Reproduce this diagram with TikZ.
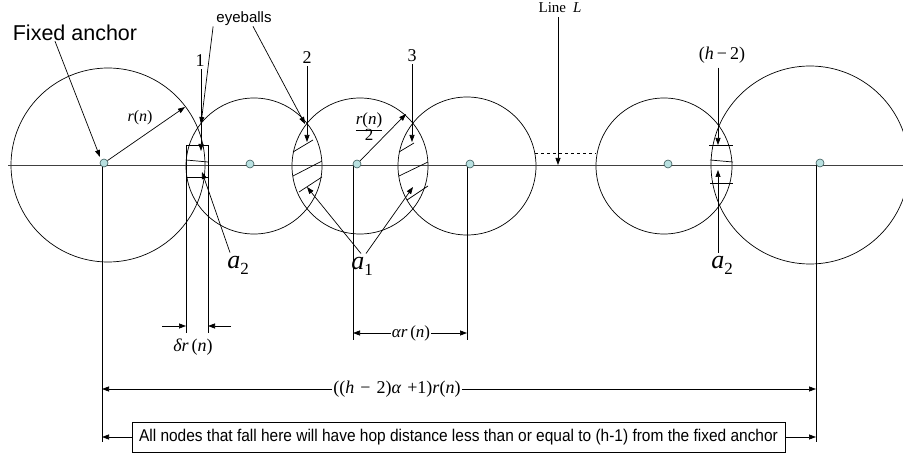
\documentclass[tikz,border=0pt]{standalone}
\usepackage{fontspec}
\setmainfont{Liberation Serif}
\newfontfamily\arialf{Liberation Sans}
\usetikzlibrary{arrows.meta}
\definecolor{dotfill}{HTML}{B8E0E0}
\definecolor{dotline}{HTML}{3A5A5A}
\begin{document}
\begin{tikzpicture}[x=1pt,y=-1pt, line width=0.7pt,
  arr/.style={-{Triangle[length=7pt,width=5pt]}},
  ring/.style={draw, line width=0.7pt},
  dotnode/.style={circle, draw=dotline, fill=dotfill, inner sep=0pt, minimum size=8pt, line width=0.6pt},
  lbl/.style={inner sep=0pt, font=\fontsize{18}{20}\selectfont},
  big/.style={inner sep=0pt, font=\fontsize{26}{28}\selectfont},
]
\useasboundingbox (0,0) rectangle (903,454);
% circles
\draw[ring] (108,165) circle[radius=97pt];
\draw[ring] (254,166) circle[radius=68pt];
\draw[ring] (360,166) circle[radius=68pt];
\draw[ring] (467,166) circle[radius=69pt];
\draw[ring] (664,166) circle[radius=68pt];
\draw[ring] (810,165) circle[radius=99pt];
% main line L
\draw[black!75] (8,165) -- (903,165);
\draw[dashed] (535,153) -- (596,153);
% verticals
\draw (102,165) -- (102,442);
\draw (353,165) -- (353,340);
\draw (467,165) -- (467,340);
\draw (816,165) -- (816,442);
% dots
\node[dotnode] (dot1) at (104,163) {};
\node[dotnode] (dot2) at (250,164) {};
\node[dotnode] (dot3) at (357,164) {};
\node[dotnode] (dot4) at (470,164) {};
\node[dotnode] (dot5) at (668,164) {};
\node[dotnode] (dot6) at (820,163) {};
% lens 1
\draw (186,145) -- (208,145);
\draw (186,177) -- (208,177);
\draw (186,160) -- (208,162);
\draw (186,145) -- (186,333);
\draw (208,145) -- (208,333);
% lens 2 hatch
\draw (293,152) -- (313,140);
\draw (293,176) -- (322,161);
\draw (299,192) -- (322,177);
% lens 3 hatch
\draw (399,152) -- (414,143);
\draw (399,176) -- (428,162);
\draw (407,200) -- (428,186);
% lens 6
\draw (709,145) -- (733,145);
\draw (710,183) -- (733,183);
\draw (710,160) -- (733,162);
% labels
\node[font=\arialf\fontsize{21.5}{24}\selectfont, inner sep=0pt] (fa) at (75,33) {Fixed anchor};
\node[font=\arialf\fontsize{15}{17}\selectfont, inner sep=0pt] (eye) at (244,19) {eyeballs};
\node[lbl] (n1) at (200,61) {1};
\node[lbl] (n2) at (307,58) {2};
\node[lbl] (n3) at (412,56) {3};
\node[lbl] (nh) at (722,55) {(\textit{h}\,−\,2)};
\node[inner sep=0pt, font=\fontsize{15}{17}\selectfont] (lineL) at (560,8) {Line\hspace{7pt}\textit{L}};
\node[inner sep=0pt, font=\fontsize{16}{18}\selectfont] (rn) at (140,118) {\textit{r}(\textit{n})};
\node[inner sep=0pt, font=\fontsize{17}{18}\selectfont, align=center] (rn2) at (369,127) {\underline{\textit{r}(\textit{n})}\\[-2pt]2};
\node[big] (a2l) at (238,265) {\textit{a}\raisebox{-6pt}{\fontsize{17}{18}\selectfont 2}};
\node[big] (a1) at (362,266) {\textit{a}\raisebox{-6pt}{\fontsize{17}{18}\selectfont 1}};
\node[big] (a2r) at (722,265) {\textit{a}\raisebox{-6pt}{\fontsize{17}{18}\selectfont 2}};
\node[lbl] (dr) at (193,347) {\textit{δr}\,(\textit{n})};
\node[inner sep=0pt, font=\fontsize{17}{18}\selectfont, fill=white, inner xsep=1pt] (ar) at (411,333) {\textit{αr}\,(\textit{n})};
\node[lbl, fill=white, inner xsep=1pt] (tot) at (397,389) {((\textit{h}\,\,−\,\,2)\textit{α}\,\,+1)\textit{r}(\textit{n})};
\node[draw, minimum width=653pt, minimum height=30pt, inner sep=0pt, font=\arialf\fontsize{17}{19}\selectfont] (box) at (458.5,437) {\scalebox{0.91}[1]{All nodes that fall here will have hop distance less than or equal to (h-1) from the fixed anchor}};
% coordinates
\coordinate (p1) at (201,124);
\coordinate (p2) at (305,124);
\coordinate (tip1) at (201,151);
\coordinate (tip2) at (307,142);
\coordinate (tip3) at (412,142);
\coordinate (tipL) at (558,165);
\coordinate (tiph) at (718,145);
\coordinate (tiph2) at (718,170);
\coordinate (a2start) at (718,253);
\coordinate (fatip) at (100,157);
\coordinate (rntip) at (185,107);
\coordinate (rn2tip) at (406,114);
\coordinate (l1tip) at (202,172);
\coordinate (l2tip) at (307,187);
\coordinate (l3tip) at (413,187);
% arrows
\draw[arr] (fa.south) ++(-20,0) -- (fatip);
\draw[arr] (eye.south west) ++(-3,0) -- (p1);
\draw[arr] (eye.south) ++(9,0) -- (p2);
\draw[arr] (n1.south) ++(1,2) -- (tip1);
\draw[arr] (n2.south) ++(0,2) -- (tip2);
\draw[arr] (n3.south) ++(0,2) -- (tip3);
\draw[arr] (lineL.south) ++(-2,4) -- (tipL);
\draw[arr] (nh.south) ++(-4,4) -- (tiph);
\draw[arr] (a2start) -- (tiph2);
\draw[arr] (dot1) -- (rntip);
\draw[arr] (dot3) -- (rn2tip);
\draw[arr] (a2l.north) ++(-8,-3) -- (l1tip);
\draw[arr] (a1.north) ++(-1,-3) -- (l2tip);
\draw[arr] (a1.north) ++(4,-3) -- (l3tip);
% dimension arrows
\draw[arr] (162,326) -- (186,326);
\draw[arr] (231,326) -- (208,326);
\draw[arr] (ar.west) -- (353,333);
\draw[arr] (ar.east) -- (467,333);
\draw[arr] (tot.west) -- (102,389);
\draw[arr] (tot.east) -- (816,389);
\draw[arr] (box.west) -- (102,437);
\draw[arr] (box.east) -- (816,437);
\end{tikzpicture}
\end{document}
